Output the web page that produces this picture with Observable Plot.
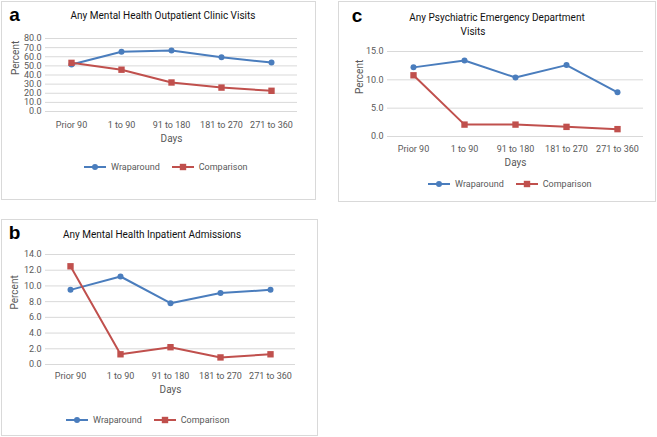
<!DOCTYPE html>
<html>
<head>
<meta charset="utf-8">
<script src="https://cdn.jsdelivr.net/npm/d3@7"></script>
<script src="https://cdn.jsdelivr.net/npm/@observablehq/plot@0.6"></script>
<style>
  html, body { margin: 0; padding: 0; background: #fff; }
  #page { position: relative; width: 657px; height: 437px; background: #fff; overflow: hidden; font-family: Roboto, "Liberation Sans", sans-serif; }
  .box { position: absolute; border: 1px solid #d9d9d9; box-sizing: border-box; }
  .abs { position: absolute; }
  .letter { position: absolute; font-family: "Liberation Sans", Arial, sans-serif; font-weight: bold; font-size: 19px; color: #000; transform: translate(-50%, -50%); line-height: 1; }
  .title { position: absolute; font-size: 10px; color: #111; transform: translate(-50%, -50%); white-space: nowrap; line-height: 1; }
  .legend { position: absolute; display: flex; align-items: center; transform: translateY(-50%); font-size: 9px; color: #595959; white-space: nowrap; }
  .legend svg { display: block; margin-right: 5px; }
  .legend .item { display: flex; align-items: center; margin-right: 12px; }
</style>
</head>
<body>
<div id="page"></div>
<script>
// ---- data ----
const categories = ["Prior 90", "1 to 90", "91 to 180", "181 to 270", "271 to 360"];
const seriesNames = ["Wraparound", "Comparison"];

const outpatientWrap = [51.5, 65.5, 66.8, 59.5, 53.6];
const outpatientComp = [53.3, 45.8, 31.8, 26.2, 22.7];

const inpatientWrap = [9.5, 11.2, 7.8, 9.1, 9.5];
const inpatientComp = [12.5, 1.3, 2.2, 0.9, 1.3];

const emergencyWrap = [12.2, 13.4, 10.4, 12.6, 7.8];
const emergencyComp = [10.8, 2.1, 2.1, 1.7, 1.3];

const outpatientTicks = [0, 10, 20, 30, 40, 50, 60, 70, 80];
const inpatientTicks = [0, 2, 4, 6, 8, 10, 12, 14];
const emergencyTicks = [0, 5, 10, 15];

const titles = {
  a: ["Any Mental Health Outpatient Clinic Visits"],
  b: ["Any Mental Health Inpatient Admissions"],
  c: ["Any Psychiatric Emergency Department", "Visits"]
};

const BLUE = "#4a7dbd";
const RED = "#c0504d";

const page = document.getElementById("page");

function addEl(cls, html, styles) {
  const el = document.createElement("div");
  el.className = cls;
  el.innerHTML = html;
  Object.assign(el.style, styles);
  page.appendChild(el);
  return el;
}

function makeLegend(x, y) {
  const lg = addEl("legend", "", {left: x + "px", top: y + "px"});
  const colors = [BLUE, RED];
  seriesNames.forEach((name, i) => {
    const item = document.createElement("div");
    item.className = "item";
    const marker = i === 0
      ? `<circle cx="11" cy="5" r="3" fill="${colors[i]}"/>`
      : `<rect x="7.8" y="1.8" width="6.4" height="6.4" fill="${colors[i]}"/>`;
    item.innerHTML = `<svg width="22" height="10"><line x1="0" x2="22" y1="5" y2="5" stroke="${colors[i]}" stroke-width="2"/>${marker}</svg><span>${name}</span>`;
    lg.appendChild(item);
  });
}

function makePanel(cfg) {
  const toRows = (vals, s) => categories.map((c, i) => ({cat: c, value: vals[i], series: s}));
  const wrap = toRows(cfg.wrap, "Wraparound");
  const comp = toRows(cfg.comp, "Comparison");
  const chart = Plot.plot({
    width: cfg.width,
    height: cfg.height,
    marginLeft: cfg.m[0],
    marginRight: cfg.m[1],
    marginTop: cfg.m[2],
    marginBottom: cfg.m[3],
    style: {background: "transparent", color: "#595959", fontFamily: "Roboto, sans-serif", fontSize: "9px", overflow: "visible"},
    x: {type: "point", domain: categories, padding: 0.5, tickSize: 0, tickPadding: cfg.xPad, label: null},
    y: {domain: cfg.yDomain, ticks: cfg.ticks, tickFormat: d3.format(".1f"), tickSize: 0, tickPadding: 4, label: null},
    marks: [
      Plot.ruleY(cfg.ticks, {stroke: "#d9d9d9", strokeWidth: 1}),
      Plot.line(wrap, {x: "cat", y: "value", stroke: BLUE, strokeWidth: 2}),
      Plot.dot(wrap, {x: "cat", y: "value", r: 3, fill: BLUE}),
      Plot.line(comp, {x: "cat", y: "value", stroke: RED, strokeWidth: 2}),
      Plot.dot(comp, {x: "cat", y: "value", r: 3.6, symbol: "square", fill: RED}),
      Plot.text(["Percent"], {text: d => d, frameAnchor: "left", dx: cfg.pdx, rotate: -90, fontSize: 10}),
      Plot.text(["Days"], {text: d => d, frameAnchor: "bottom", dy: cfg.ddy, fontSize: 10})
    ]
  });
  chart.style.position = "absolute";
  chart.style.left = cfg.left + "px";
  chart.style.top = cfg.top + "px";
  chart.style.maxWidth = "none";
  page.appendChild(chart);
}

// panel borders
addEl("box", "", {left: "1px", top: "1px", width: "315px", height: "199px"});
addEl("box", "", {left: "338px", top: "1px", width: "318px", height: "201px"});
addEl("box", "", {left: "1px", top: "219px", width: "317px", height: "217px"});

// panel a
makePanel({left: 1, top: 1, width: 315, height: 198, m: [44, 19, 37, 88],
  yDomain: [0, 80], ticks: outpatientTicks, wrap: outpatientWrap, comp: outpatientComp,
  xPad: 10, pdx: -30, ddy: 30});
// panel b
makePanel({left: 1, top: 219, width: 316, height: 216, m: [44, 22, 35, 71],
  yDomain: [0, 14], ticks: inpatientTicks, wrap: inpatientWrap, comp: inpatientComp,
  xPad: 8, pdx: -31, ddy: 28});
// panel c
makePanel({left: 338, top: 1, width: 317, height: 200, m: [49, 12, 50, 65],
  yDomain: [0, 15], ticks: emergencyTicks, wrap: emergencyWrap, comp: emergencyComp,
  xPad: 9, pdx: -28, ddy: 29});

// letters
addEl("letter", "a", {left: "14.5px", top: "14px"});
addEl("letter", "b", {left: "14.5px", top: "232px"});
addEl("letter", "c", {left: "357px", top: "15px"});

// titles
addEl("title", titles.a[0], {left: "163px", top: "16px"});
addEl("title", titles.b[0], {left: "152px", top: "235px"});
addEl("title", titles.c[0], {left: "497px", top: "18px"});
addEl("title", titles.c[1], {left: "473px", top: "32px"});

// legends
makeLegend(84, 167);
makeLegend(66, 420);
makeLegend(428, 184);
</script>
</body>
</html>
